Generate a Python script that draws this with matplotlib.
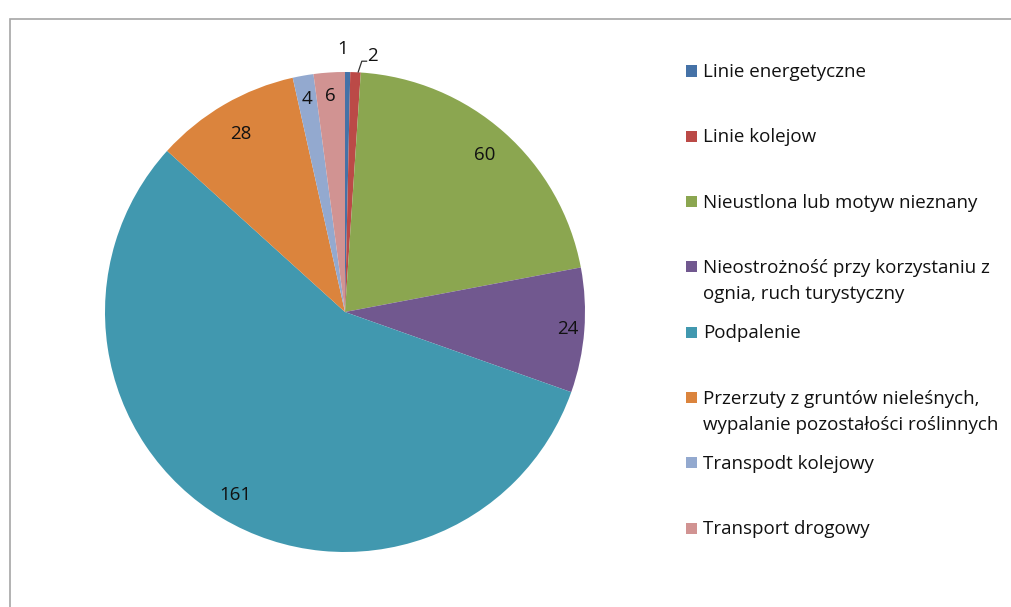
import matplotlib
matplotlib.use("Agg")
import matplotlib.pyplot as plt
from matplotlib.patches import Rectangle
import numpy as np

categories = [
    "Linie energetyczne",
    "Linie kolejow",
    "Nieustlona lub motyw nieznany",
    "Nieostrożność przy korzystaniu z\nognia, ruch turystyczny",
    "Podpalenie",
    "Przerzuty z gruntów nieleśnych,\nwypalanie pozostałości roślinnych",
    "Transpodt kolejowy",
    "Transport drogowy",
]
values = [1, 2, 60, 24, 161, 28, 4, 6]
colors = ["#4572A7", "#BB4A47", "#8BA650", "#71588F", "#4198AF", "#DB843D", "#93A9CF", "#D19392"]

W, H = 1011, 607
fig = plt.figure(figsize=(W / 100, H / 100), dpi=100)
fig.patch.set_facecolor("white")
FONT = "Open Sans"

# frame of the chart area
fig.add_artist(Rectangle((10 / W, -0.1), 1.2, (H - 19) / H + 0.1, transform=fig.transFigure,
                         fill=False, edgecolor="#A6A6A6", linewidth=1.2))

# pie axes: center (345, 312), radius 240 px
cx, cy, r = 345, 312, 240
ax = fig.add_axes([(cx - r) / W, (H - cy - r) / H, 2 * r / W, 2 * r / H])
wedges, _ = ax.pie(values, colors=colors, startangle=90, counterclock=False,
                   wedgeprops=dict(linewidth=0))
ax.set_xlim(-1, 1)
ax.set_ylim(-1, 1)
ax.set_aspect("equal")
ax.axis("off")

# data labels
label_r = [1.10, 1.10, 0.875, 0.93, 0.89, 0.86, 0.90, 0.90]
total = sum(values)
cum = 0
for i, v in enumerate(values):
    mid = 90 - (cum + v / 2) / total * 360
    cum += v
    a = np.deg2rad(mid)
    x, y = label_r[i] * np.cos(a), label_r[i] * np.sin(a)
    if i == 0:
        x, y = -0.01, 1.095
    if i == 1:
        x, y = 0.115, 1.065
        ax.plot([0.055, 0.07, 0.09], [1.0, 1.045, 1.045], color="#333333", lw=0.9, clip_on=False)
    ax.text(x, y, str(v), ha="center", va="center", fontsize=13.5, family=FONT,
            color="#111111", clip_on=False)

# legend
for i, (c, lab) in enumerate(zip(colors, categories)):
    ypix = 71 + 65.3 * i
    fig.add_artist(Rectangle((686 / W, 1 - (ypix + 5.5) / H), 11 / W, 11 / H,
                             transform=fig.transFigure, facecolor=c, edgecolor="none"))
    fig.text(703 / W, 1 - (ypix - 8) / H, lab, ha="left", va="top", fontsize=13.5,
             family=FONT, color="#111111", linespacing=1.6)

fig.savefig("out.png", dpi=100)
